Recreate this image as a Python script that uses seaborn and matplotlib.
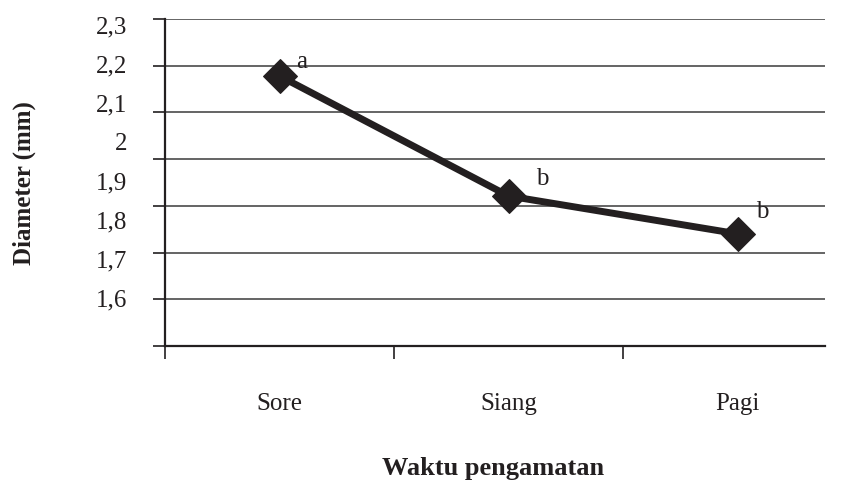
import numpy as np
import pandas as pd
import matplotlib
matplotlib.use("Agg")
import matplotlib.pyplot as plt
import seaborn as sns

# data (values on the gridline scale)
waktu = ["Sore", "Siang", "Pagi"]
diameter = [2.178, 1.921, 1.840]
notasi = ["a", "b", "b"]
y_labels = ["1,6", "1,7", "1,8", "1,9", "2", "2,1", "2,2", "2,3"]

df = pd.DataFrame({"Waktu": waktu, "Diameter": diameter})

sns.set_theme(style="white")
plt.rcParams["font.family"] = ["Liberation Serif", "DejaVu Serif"]
ink = "#231f20"

fig = plt.figure(figsize=(8.43, 4.81), dpi=100)
ax = fig.add_axes([0.1957, 0.2786, 0.7829, 0.6798])

sns.lineplot(data=df, x="Waktu", y="Diameter", sort=False, ax=ax,
             color=ink, linewidth=5, marker="D", markersize=17,
             markeredgecolor=ink, markerfacecolor=ink)

# letters of the mean separation test
offsets = [(12, 6.5), (19.5, 8.6), (13, 12)]
for i, (txt, off) in enumerate(zip(notasi, offsets)):
    ax.annotate(txt, (i, diameter[i]), xytext=off, textcoords="offset points",
                fontsize=18, color=ink, ha="left", va="baseline")

# y axis: gridlines every 0.1
ax.set_ylim(1.6, 2.3)
ax.set_yticks(np.arange(1.6, 2.31, 0.1))
ax.yaxis.grid(True, color="#3a3a3a", linewidth=1.1)
ax.set_yticklabels([])
ax.tick_params(axis="y", length=9, width=1.2, color=ink, direction="out", left=True)

# x axis: boundary ticks, labels under the categories
ax.set_xlim(-0.5, 2.38)
ax.set_xticks([0, 1, 2])
ax.set_xticklabels(waktu, fontsize=18, color=ink)
ax.set_xticks([-0.5, 0.5, 1.5], minor=True)
ax.tick_params(axis="x", which="major", length=0, pad=33)
ax.tick_params(axis="x", which="minor", length=9, width=1.2, color=ink,
               direction="out", bottom=True)

for side in ["top", "right"]:
    ax.spines[side].set_visible(False)
for side in ["left", "bottom"]:
    ax.spines[side].set_color(ink)
    ax.spines[side].set_linewidth(1.6)

ax.set_xlabel("Waktu pengamatan", fontsize=19, fontweight="bold", color=ink)
ax.xaxis.set_label_coords(0.497, -0.335)
ax.set_ylabel("Diameter (mm)", fontsize=18, fontweight="bold", color=ink)
ax.yaxis.set_label_coords(-0.196, 0.5)

# tick label column as printed in the source (spacing differs from the grid)
ax2 = ax.twinx()
ax2.yaxis.tick_left()
ax2.set_ylim(1.474, 2.313)
ax2.set_yticks(np.arange(1.6, 2.31, 0.1))
ax2.set_yticklabels(y_labels, fontsize=18, color=ink)
ax2.tick_params(axis="y", length=0, pad=27)
for side in ax2.spines:
    ax2.spines[side].set_visible(False)
ax2.grid(False)

fig.savefig("out.png", dpi=100)
